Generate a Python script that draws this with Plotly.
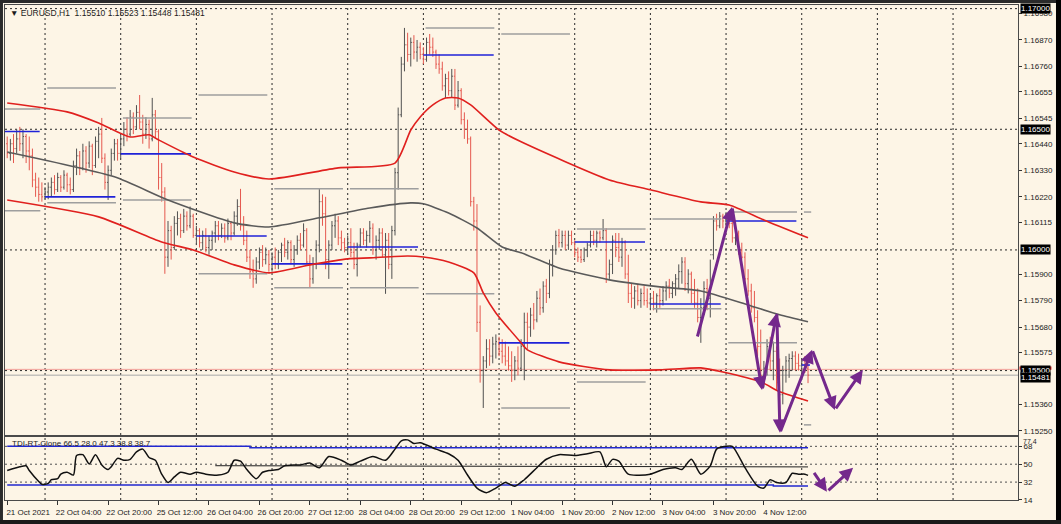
import plotly.graph_objects as go
from plotly.subplots import make_subplots

# ---------------- text ----------------
symbol_title = "\u25BC EURUSD,H1  1.15510 1.15523 1.15448 1.15481"
tdi_title = "TDI-RT-Clone 66.5 28.0 47.3 38.8 38.7"

# ---------------- H1 bars (21 Oct 12:00 ... 5 Nov 02:00) ----------------
bar_open = [
    1.1644, 1.1640, 1.1644, 1.1642, 1.1646, 1.1644, 1.1647, 1.1641, 1.1639, 1.1629, 1.1626, 1.1623,
    1.1622, 1.1624, 1.1626, 1.1628, 1.1625, 1.1630, 1.1626, 1.1631, 1.1627, 1.1625, 1.1635, 1.1639, 1.1634, 1.1641, 1.1636, 1.1643, 1.1635, 1.1645, 1.1648, 1.1638, 1.1628, 1.1633, 1.1640, 1.1644,
    1.1640, 1.1646, 1.1650, 1.1648, 1.1655, 1.1651, 1.1657, 1.1653, 1.1648, 1.1652, 1.1646, 1.1656, 1.1649, 1.1630, 1.1624, 1.1597, 1.1608, 1.1601, 1.1611, 1.1613, 1.1608, 1.1614, 1.1610, 1.1614,
    1.1606, 1.1608, 1.1603, 1.1606, 1.1601, 1.1604, 1.1607, 1.1610, 1.1606, 1.1609, 1.1605, 1.1611, 1.1607, 1.1614, 1.1618, 1.1610, 1.1604, 1.1597, 1.1591, 1.1588, 1.1595, 1.1599, 1.1596, 1.1598,
    1.1594, 1.1597, 1.1594, 1.1599, 1.1602, 1.1599, 1.1603, 1.1596, 1.1600, 1.1604, 1.1602, 1.1608, 1.1595, 1.1588, 1.1594, 1.1602, 1.1620, 1.1615, 1.1596, 1.1602, 1.1610, 1.1612, 1.1605, 1.1603,
    1.1601, 1.1603, 1.1599, 1.1594, 1.1602, 1.1607, 1.1604, 1.1606, 1.1609, 1.1600, 1.1604, 1.1607, 1.1598, 1.1604, 1.1594, 1.1608, 1.1632, 1.1656, 1.1677, 1.1685, 1.1681, 1.1686, 1.1682, 1.1684,
    1.1681, 1.1679, 1.1686, 1.1684, 1.1682, 1.1677, 1.1675, 1.1668, 1.1671, 1.1666, 1.1672, 1.1660, 1.1666, 1.1654, 1.1650, 1.1646, 1.1620, 1.1612, 1.1570, 1.1550, 1.1554, 1.1559, 1.1556, 1.1561,
    1.15615, 1.1558, 1.1556, 1.1554, 1.1552, 1.1550, 1.1554, 1.1551, 1.1560, 1.1570, 1.1568, 1.1573, 1.1571, 1.1580, 1.1576, 1.1585, 1.1582, 1.1594, 1.1600, 1.1606, 1.1603, 1.1606, 1.1602, 1.1606,
    1.1603, 1.1599, 1.1597, 1.1596, 1.1600, 1.1602, 1.1606, 1.1604, 1.1607, 1.1605, 1.1608, 1.1590, 1.1594, 1.1604, 1.1601, 1.1597, 1.1603, 1.1590, 1.1582, 1.1580, 1.1583, 1.1579, 1.1582, 1.1579,
    1.1578, 1.1580, 1.1578, 1.1581, 1.1579, 1.1583, 1.1585, 1.1582, 1.1586, 1.1588, 1.1591, 1.1595, 1.1586, 1.1590, 1.1582, 1.1578, 1.1572, 1.1576, 1.1584, 1.1580, 1.1598, 1.1612, 1.1610, 1.1614,
    1.1612, 1.1614, 1.1611, 1.1605, 1.1607, 1.1600, 1.1597, 1.1588, 1.1583, 1.1576, 1.1572, 1.1560, 1.1548, 1.1551, 1.1560, 1.1554, 1.1558, 1.1545, 1.1540, 1.1550, 1.1554, 1.1555, 1.1556, 1.1553,
    1.1552, 1.1554, 1.1551,
]
bar_high = [
    1.1647, 1.1646, 1.1648, 1.1650, 1.1651, 1.1650, 1.1648, 1.1647, 1.1642, 1.1632, 1.1630, 1.1628,
    1.1626, 1.1628, 1.1630, 1.1631, 1.1632, 1.1631, 1.1633, 1.1632, 1.1630, 1.1637, 1.1642, 1.1641, 1.1644, 1.1643, 1.1645, 1.1644, 1.1647, 1.1651, 1.16547, 1.1640, 1.1635, 1.1642, 1.1646, 1.1646,
    1.1648, 1.1653, 1.1655, 1.1658, 1.1657, 1.1660, 1.16642, 1.1656, 1.1655, 1.1654, 1.1663, 1.1658, 1.1650, 1.1636, 1.1626, 1.1612, 1.1610, 1.1614, 1.1616, 1.1615, 1.1617, 1.1616, 1.1618, 1.1615,
    1.1610, 1.1609, 1.1608, 1.1609, 1.1606, 1.1608, 1.1612, 1.1612, 1.1611, 1.1611, 1.1613, 1.1612, 1.1616, 1.1621, 1.16253, 1.1614, 1.1608, 1.1600, 1.1596, 1.1597, 1.1601, 1.1602, 1.1601, 1.1600,
    1.1599, 1.1601, 1.1600, 1.1603, 1.1605, 1.1604, 1.1604, 1.1602, 1.1606, 1.1607, 1.1611, 1.1609, 1.1598, 1.1597, 1.1604, 1.16253, 1.1623, 1.1622, 1.1604, 1.1612, 1.1615, 1.1614, 1.1608, 1.1605,
    1.1606, 1.1609, 1.1603, 1.1603, 1.1609, 1.1609, 1.1608, 1.1612, 1.1611, 1.1606, 1.1609, 1.1609, 1.1607, 1.1607, 1.1610, 1.1634, 1.1659, 1.1680, 1.1692, 1.1690, 1.1688, 1.1689, 1.1687, 1.1686,
    1.1684, 1.1688, 1.16895, 1.1688, 1.1683, 1.1681, 1.1678, 1.1673, 1.1674, 1.1675, 1.1675, 1.1670, 1.1667, 1.1657, 1.1654, 1.1647, 1.1622, 1.1619, 1.1577, 1.1556, 1.1563, 1.1563, 1.1564, 1.1565,
    1.1564, 1.1563, 1.1562, 1.1560, 1.1558, 1.1556, 1.1560, 1.1563, 1.1574, 1.1574, 1.1576, 1.1578, 1.1583, 1.1584, 1.1587, 1.1588, 1.1596, 1.1602, 1.1608, 1.16087, 1.1608, 1.1608, 1.1608, 1.1608,
    1.1604, 1.1601, 1.1600, 1.1601, 1.1603, 1.1608, 1.1608, 1.1608, 1.1608, 1.16128, 1.1609, 1.1596, 1.1606, 1.1607, 1.1607, 1.1605, 1.1604, 1.1598, 1.1586, 1.1585, 1.1586, 1.1584, 1.1585, 1.1584,
    1.1582, 1.1583, 1.1582, 1.1584, 1.1585, 1.1587, 1.1588, 1.1587, 1.1590, 1.1594, 1.1597, 1.1597, 1.1592, 1.1591, 1.1588, 1.1584, 1.1580, 1.1587, 1.1588, 1.1596, 1.1614, 1.1615, 1.16157, 1.1615,
    1.16157, 1.16155, 1.1612, 1.1609, 1.1608, 1.1603, 1.1599, 1.1592, 1.1586, 1.1583, 1.1575, 1.1567, 1.1554, 1.1563, 1.1564, 1.1562, 1.1560, 1.1555, 1.1552, 1.1556, 1.1557, 1.1558, 1.1558, 1.1557,
    1.1555, 1.1556, 1.15523,
]
bar_low = [
    1.1638, 1.1637, 1.1636, 1.1640, 1.1641, 1.1638, 1.1636, 1.1633, 1.1626, 1.1622, 1.1620, 1.1620,
    1.1621, 1.1621, 1.1622, 1.1623, 1.1624, 1.1624, 1.1625, 1.1624, 1.1623, 1.1624, 1.1631, 1.1631, 1.1633, 1.1632, 1.1634, 1.1631, 1.1634, 1.1638, 1.1636, 1.1625, 1.16207, 1.1631, 1.1637, 1.1637,
    1.1638, 1.1643, 1.1645, 1.1647, 1.1648, 1.1650, 1.1650, 1.1644, 1.1646, 1.1642, 1.1645, 1.1646, 1.1625, 1.1620, 1.15901, 1.1593, 1.1596, 1.1600, 1.1606, 1.1605, 1.1607, 1.1608, 1.1609, 1.1605,
    1.1602, 1.1601, 1.1600, 1.1599, 1.1598, 1.1600, 1.1603, 1.1604, 1.1605, 1.1603, 1.1604, 1.1604, 1.1606, 1.1610, 1.1608, 1.1602, 1.1595, 1.1588, 1.15843, 1.1586, 1.1592, 1.1593, 1.1594, 1.1591,
    1.1591, 1.1592, 1.1592, 1.1595, 1.1597, 1.1596, 1.1594, 1.1593, 1.1598, 1.1600, 1.1601, 1.1594, 1.15843, 1.1586, 1.1592, 1.1599, 1.1610, 1.1592, 1.1588, 1.1600, 1.1605, 1.1602, 1.1600, 1.1599,
    1.1598, 1.1597, 1.1592, 1.1589, 1.1601, 1.1602, 1.1601, 1.1603, 1.1598, 1.1596, 1.1600, 1.1597, 1.15818, 1.1592, 1.1588, 1.1606, 1.1625, 1.1655, 1.1674, 1.1678, 1.1676, 1.1679, 1.1678, 1.1679,
    1.1677, 1.1678, 1.1681, 1.1680, 1.1675, 1.1673, 1.1666, 1.1663, 1.1664, 1.1663, 1.1658, 1.1659, 1.1652, 1.1646, 1.1644, 1.1618, 1.1608, 1.1566, 1.1545, 1.15345, 1.1551, 1.1552, 1.1553, 1.1555,
    1.1556, 1.1553, 1.1552, 1.1550, 1.15453, 1.1546, 1.1548, 1.1550, 1.1546, 1.1559, 1.1564, 1.1567, 1.1570, 1.1573, 1.1574, 1.1578, 1.1580, 1.1589, 1.1598, 1.1601, 1.1601, 1.1600, 1.1600, 1.1602,
    1.1597, 1.1595, 1.15946, 1.1595, 1.1597, 1.1601, 1.1602, 1.1601, 1.1603, 1.1604, 1.15863, 1.1588, 1.1590, 1.1597, 1.1595, 1.1593, 1.1588, 1.1578, 1.1576, 1.15756, 1.1577, 1.1576, 1.1577, 1.1576,
    1.1575, 1.1575, 1.1574, 1.1576, 1.1577, 1.1579, 1.1580, 1.1580, 1.1581, 1.1584, 1.1586, 1.1583, 1.1582, 1.1578, 1.1576, 1.1570, 1.15615, 1.1573, 1.1575, 1.1572, 1.1596, 1.1608, 1.1609, 1.1609,
    1.1610, 1.1609, 1.1603, 1.1602, 1.1598, 1.1596, 1.1586, 1.1581, 1.1574, 1.1570, 1.1556, 1.1543, 1.1543, 1.1548, 1.1550, 1.1546, 1.1542, 1.15275, 1.1536, 1.1545, 1.1547, 1.1550, 1.1550, 1.1550,
    1.1548, 1.1549, 1.15448,
]
bar_close = [
    1.1640, 1.1644, 1.1642, 1.1646, 1.1644, 1.1647, 1.1641, 1.1639, 1.1629, 1.1626, 1.1623, 1.1622,
    1.1624, 1.1626, 1.1628, 1.1625, 1.1630, 1.1626, 1.1631, 1.1627, 1.1625, 1.1635, 1.1639, 1.1634, 1.1641, 1.1636, 1.1643, 1.1635, 1.1645, 1.1648, 1.1638, 1.1628, 1.1633, 1.1640, 1.1644, 1.1640,
    1.1646, 1.1650, 1.1648, 1.1655, 1.1651, 1.1657, 1.1653, 1.1648, 1.1652, 1.1646, 1.1656, 1.1649, 1.1630, 1.1624, 1.1597, 1.1608, 1.1601, 1.1611, 1.1613, 1.1608, 1.1614, 1.1610, 1.1614, 1.1606,
    1.1608, 1.1603, 1.1606, 1.1601, 1.1604, 1.1607, 1.1610, 1.1606, 1.1609, 1.1605, 1.1611, 1.1607, 1.1614, 1.1618, 1.1610, 1.1604, 1.1597, 1.1591, 1.1588, 1.1595, 1.1599, 1.1596, 1.1598, 1.1594,
    1.1597, 1.1594, 1.1599, 1.1602, 1.1599, 1.1603, 1.1596, 1.1600, 1.1604, 1.1602, 1.1608, 1.1595, 1.1588, 1.1594, 1.1602, 1.1620, 1.1615, 1.1596, 1.1602, 1.1610, 1.1612, 1.1605, 1.1603, 1.1601,
    1.1603, 1.1599, 1.1594, 1.1602, 1.1607, 1.1604, 1.1606, 1.1609, 1.1600, 1.1604, 1.1607, 1.1598, 1.1604, 1.1594, 1.1608, 1.1632, 1.1656, 1.1677, 1.1685, 1.1681, 1.1686, 1.1682, 1.1684, 1.1681,
    1.1679, 1.1686, 1.1684, 1.1682, 1.1677, 1.1675, 1.1668, 1.1671, 1.1666, 1.1672, 1.1660, 1.1666, 1.1654, 1.1650, 1.1646, 1.1620, 1.1612, 1.1570, 1.1550, 1.1554, 1.1559, 1.1556, 1.1561, 1.1562,
    1.1558, 1.1556, 1.1554, 1.1552, 1.1550, 1.1554, 1.1551, 1.1560, 1.1570, 1.1568, 1.1573, 1.1571, 1.1580, 1.1576, 1.1585, 1.1582, 1.1594, 1.1600, 1.1606, 1.1603, 1.1606, 1.1602, 1.1606, 1.1603,
    1.1599, 1.1597, 1.1596, 1.1600, 1.1602, 1.1606, 1.1604, 1.1607, 1.1605, 1.1608, 1.1590, 1.1594, 1.1604, 1.1601, 1.1597, 1.1603, 1.1590, 1.1582, 1.1580, 1.1583, 1.1579, 1.1582, 1.1579, 1.1578,
    1.1580, 1.1578, 1.1581, 1.1579, 1.1583, 1.1585, 1.1582, 1.1586, 1.1588, 1.1591, 1.1595, 1.1586, 1.1590, 1.1582, 1.1578, 1.1572, 1.1576, 1.1584, 1.1580, 1.1598, 1.1612, 1.1610, 1.1614, 1.1612,
    1.1614, 1.1611, 1.1605, 1.1607, 1.1600, 1.1597, 1.1588, 1.1583, 1.1576, 1.1572, 1.1560, 1.1548, 1.1551, 1.1560, 1.1554, 1.1558, 1.1545, 1.1540, 1.1550, 1.1554, 1.1555, 1.1556, 1.1553, 1.1552,
    1.1554, 1.1551, 1.15481,
]
bar_index = list(range(len(bar_close)))

# ---------------- time axis ----------------
time_tick_bars = [0, 16, 32, 48, 64, 80, 96, 112, 128, 144, 160, 176, 192, 208, 224, 240]
time_tick_labels = ["21 Oct 2021", "22 Oct 04:00", "22 Oct 20:00", "25 Oct 12:00", "26 Oct 04:00",
                    "26 Oct 20:00", "27 Oct 12:00", "28 Oct 04:00", "28 Oct 20:00", "29 Oct 12:00",
                    "1 Nov 04:00", "1 Nov 20:00", "2 Nov 12:00", "3 Nov 04:00", "3 Nov 20:00", "4 Nov 12:00"]
separator_bars = [12, 36, 60, 84, 108, 132, 156, 180, 204, 228, 252, 276, 300]

# ---------------- price axis ----------------
price_ticks = [1.16980, 1.16870, 1.16760, 1.16655, 1.16545, 1.16440, 1.16330, 1.16220, 1.16115,
               1.15900, 1.15790, 1.15680, 1.15575, 1.15360, 1.15250]
marked_levels = [1.17000, 1.16500, 1.16000, 1.15500]
bid_price = 1.15481
ask_price = 1.15505

# ---------------- daily levels (open = blue, previous day high/low = grey) ----------------
day_start = [-12, 12, 36, 60, 84, 108, 132, 156, 180, 204, 228, 252]
day_open = [1.16491, 1.16220, 1.16398, 1.16058, 1.15942, 1.16012, 1.16808, 1.15615, 1.16033, 1.15776, 1.16120, 1.15523]
prev_high = [1.16584, 1.16671, 1.16547, 1.16642, 1.16253, 1.16253, 1.16920, 1.16895, 1.16087, 1.16128, 1.16157, 1.16157]
prev_low = [1.16162, 1.16195, 1.16207, 1.15901, 1.15843, 1.15843, 1.15818, 1.15345, 1.15453, 1.15756, 1.15615, 1.15275]

# ---------------- channel (upper red, middle grey, lower red) ----------------
upper_x = [0, 19, 29, 39, 45, 48, 59, 72, 83, 105, 123, 128, 131, 135, 139, 143, 147, 156, 163, 191, 204, 220, 229, 240, 254]
upper_y = [1.16609, 1.16572, 1.16526, 1.16468, 1.16477, 1.16456, 1.16385, 1.16323, 1.16294, 1.16340, 1.16360,
           1.16497, 1.16551, 1.16601, 1.16630, 1.16630, 1.16601, 1.16497, 1.16448, 1.16290, 1.16249, 1.16199,
           1.16186, 1.16124, 1.16050]
mid_x = [0, 34, 51, 72, 83, 99, 115, 128, 132, 140, 149, 157, 163, 175, 191, 207, 220, 235, 245, 254]
mid_y = [1.16406, 1.16303, 1.16207, 1.16112, 1.16095, 1.16133, 1.16174, 1.16195, 1.16191, 1.16153, 1.16091,
         1.16012, 1.15988, 1.15925, 1.15876, 1.15847, 1.15830, 1.15772, 1.15731, 1.15702]
lower_x = [0, 29, 49, 59, 72, 83, 96, 108, 115, 127, 132, 140, 148, 151, 155, 163, 165, 175, 191, 207, 220, 227, 239, 245, 254]
lower_y = [1.16207, 1.16137, 1.16033, 1.16000, 1.15938, 1.15905, 1.15938, 1.15963, 1.15967, 1.15975, 1.15971,
           1.15950, 1.15905, 1.15822, 1.15739, 1.15615, 1.15586, 1.15536, 1.15503, 1.15503, 1.15511, 1.15494,
           1.15453, 1.15412, 1.15374]

# ---------------- TDI sub-window ----------------
tdi_x = [0, 4, 6, 7, 10, 11, 13, 14, 16, 17, 19, 21, 22, 24, 26, 28, 30, 32, 33, 35, 37, 39, 41, 43, 45, 47,
         49, 51, 53, 55, 58, 60, 63, 67, 70, 72, 74, 76, 79, 81, 83, 86, 88, 91, 93, 96, 99, 102, 106, 109,
         112, 116, 120, 123, 125, 127, 129, 131, 136, 140, 143, 146, 149, 152, 155, 158, 161, 164, 168, 171,
         175, 180, 184, 188, 190, 192, 194, 197, 204, 208, 212, 214, 217, 220, 223, 225, 228, 230, 234, 238,
         240, 242, 244, 247, 249, 251, 253, 254]
tdi_price = [43.7, 47.5, 48.4, 43.7, 32.6, 29.8, 30.7, 34.4, 35.4, 40.0, 41.9, 39.1, 58.7, 59.6, 50.3, 59.6,
             49.3, 44.7, 47.5, 55.9, 54.0, 54.9, 62.4, 65.2, 56.8, 54.0, 40.0, 31.6, 37.2, 41.9, 40.0, 41.9,
             40.0, 39.1, 41.9, 54.0, 53.1, 44.7, 35.4, 41.9, 43.7, 44.7, 48.4, 49.3, 49.3, 51.2, 46.5, 57.7,
             54.0, 49.3, 53.1, 57.7, 54.0, 65.2, 73.6, 74.5, 70.8, 71.7, 65.2, 60.5, 54.0, 39.1, 26.0, 21.4,
             26.0, 31.6, 27.9, 34.4, 46.5, 55.0, 59.6, 58.7, 60.5, 62.4, 47.5, 54.9, 53.1, 40.0, 40.0, 44.7,
             46.5, 44.7, 54.9, 40.0, 48.4, 65.2, 68.0, 68.0, 46.5, 27.9, 26.0, 34.4, 31.6, 31.6, 40.9, 40.0,
             40.0, 38.8]
tdi_up_x = [0, 77, 77, 254]
tdi_up_y = [68.0, 68.0, 66.5, 66.5]
tdi_dn_x = [0, 243, 243, 254]
tdi_dn_y = [29.0, 29.0, 28.0, 28.0]
tdi_base_x = [66, 254]
tdi_base_y = [48.5, 47.3]
tdi_levels = [68, 50, 32]
tdi_ticks = [68, 50, 32, 14]
tdi_max_label = "77.4"

# ---------------- drawn arrows ----------------
arrow_x = [218.8, 229.9, 239.4, 244.1, 245.1, 255.3, 262.5, 271.4]
arrow_y = [1.15635, 1.16178, 1.15420, 1.15739, 1.15242, 1.15586, 1.15337, 1.15503]
tdi_arrow_x = [255.6, 260.0, 268.3]
tdi_arrow_y = [42.8, 22.3, 46.5]

# ======================================================================
BG = "#FDF5E6"
TXT = "#1c1c1c"
FONT = "Liberation Sans"

fig = make_subplots(rows=2, cols=1, shared_xaxes=True, vertical_spacing=0.004)

fig.add_trace(go.Ohlc(
    x=bar_index, open=bar_open, high=bar_high, low=bar_low, close=bar_close,
    increasing=dict(line=dict(color="#505050", width=1)),
    decreasing=dict(line=dict(color="#E5584F", width=1)),
    tickwidth=0.35, hoverinfo="skip", showlegend=False), row=1, col=1)

# daily level segments
last_bar = bar_index[-1]
bx, by, gx, gy = [], [], [], []
for s, o, h, l in zip(day_start, day_open, prev_high, prev_low):
    be = min(s + 22.3, last_bar + 0.6)
    bx += [s, be, None]
    by += [o, o, None]
    gs = s + 0.7
    ge = min(s + 22.5, last_bar + 1.0)
    gx += [gs, ge, None, gs, ge, None]
    gy += [h, h, None, l, l, None]
fig.add_trace(go.Scatter(x=gx, y=gy, mode="lines", line=dict(color="#9E9E9E", width=1.5),
                         hoverinfo="skip", showlegend=False), row=1, col=1)
fig.add_trace(go.Scatter(x=bx, y=by, mode="lines", line=dict(color="#1F22D8", width=1.6),
                         hoverinfo="skip", showlegend=False), row=1, col=1)

# channel lines
fig.add_trace(go.Scatter(x=upper_x, y=upper_y, mode="lines", line=dict(color="#E0201E", width=1.6, shape="spline", smoothing=0.6),
                         hoverinfo="skip", showlegend=False), row=1, col=1)
fig.add_trace(go.Scatter(x=mid_x, y=mid_y, mode="lines", line=dict(color="#5A5A5A", width=1.6, shape="spline", smoothing=0.6),
                         hoverinfo="skip", showlegend=False), row=1, col=1)
fig.add_trace(go.Scatter(x=lower_x, y=lower_y, mode="lines", line=dict(color="#E0201E", width=1.6, shape="spline", smoothing=0.6),
                         hoverinfo="skip", showlegend=False), row=1, col=1)

# TDI
fig.add_trace(go.Scatter(x=tdi_up_x, y=tdi_up_y, mode="lines", line=dict(color="#2228D0", width=1.5),
                         hoverinfo="skip", showlegend=False), row=2, col=1)
fig.add_trace(go.Scatter(x=tdi_dn_x, y=tdi_dn_y, mode="lines", line=dict(color="#2228D0", width=1.5),
                         hoverinfo="skip", showlegend=False), row=2, col=1)
fig.add_trace(go.Scatter(x=tdi_base_x, y=tdi_base_y, mode="lines", line=dict(color="#202020", width=1),
                         hoverinfo="skip", showlegend=False), row=2, col=1)
fig.add_trace(go.Scatter(x=tdi_x, y=tdi_price, mode="lines", line=dict(color="#111111", width=1.5, shape="spline", smoothing=0.7),
                         hoverinfo="skip", showlegend=False), row=2, col=1)

# separators (dotted verticals)
for b in separator_bars:
    fig.add_shape(type="line", xref="x", yref="paper", x0=b, x1=b, y0=0, y1=1,
                  line=dict(color="#2a2a2a", width=1, dash="2px,3px"), layer="below")
# marked horizontal levels
for lv in marked_levels:
    fig.add_shape(type="line", xref="paper", yref="y", x0=0, x1=1, y0=lv, y1=lv,
                  line=dict(color="#2a2a2a", width=1, dash="2px,3px"), layer="below")
# ask / bid lines
fig.add_shape(type="line", xref="paper", yref="y", x0=0, x1=1, y0=ask_price, y1=ask_price,
              line=dict(color="#F2A09A", width=1), layer="below")
fig.add_shape(type="line", xref="paper", yref="y", x0=0, x1=1, y0=bid_price, y1=bid_price,
              line=dict(color="#A8A8A8", width=1), layer="below")
# TDI level lines
for lv in tdi_levels:
    fig.add_shape(type="line", xref="paper", yref="y2", x0=0, x1=1, y0=lv, y1=lv,
                  line=dict(color="#505050", width=1, dash="2px,3px"), layer="below")

# arrows in main chart
for i in range(len(arrow_x) - 1):
    fig.add_annotation(x=arrow_x[i + 1], y=arrow_y[i + 1], ax=arrow_x[i], ay=arrow_y[i],
                       xref="x", yref="y", axref="x", ayref="y", text="", showarrow=True,
                       arrowhead=2, arrowsize=0.9, arrowwidth=3, arrowcolor="#74288C")
for i in range(len(tdi_arrow_x) - 1):
    fig.add_annotation(x=tdi_arrow_x[i + 1], y=tdi_arrow_y[i + 1], ax=tdi_arrow_x[i], ay=tdi_arrow_y[i],
                       xref="x2", yref="y2", axref="x2", ayref="y2", text="", showarrow=True,
                       arrowhead=2, arrowsize=0.9, arrowwidth=3, arrowcolor="#74288C")

# ask marker strip on the price scale
fig.add_shape(type="rect", xref="paper", yref="y", x0=1.0015, x1=1.033,
              y0=ask_price - 0.00002, y1=ask_price + 0.00012, fillcolor="#E02020", line=dict(width=0))
# price boxes on right axis
box_font = dict(family=FONT, size=8, color="white")
for lv in marked_levels:
    fig.add_annotation(xref="paper", yref="y", x=1.0015, y=lv, xanchor="left", yanchor="middle",
                       text=f"{lv:.5f}", showarrow=False, bgcolor="#000000", font=box_font, borderpad=0)
fig.add_annotation(xref="paper", yref="y", x=1.0015, y=bid_price - 0.00008, xanchor="left", yanchor="middle",
                   text=f"{bid_price:.5f}", showarrow=False, bgcolor="#000000", font=box_font, borderpad=0)
# top value of the TDI scale
fig.add_annotation(xref="paper", yref="paper", x=1.004, y=0.1273, xanchor="left", yanchor="top",
                   text=tdi_max_label, showarrow=False, font=dict(family=FONT, size=7, color=TXT), borderpad=0)

# titles
fig.add_annotation(xref="paper", yref="paper", x=0.003, y=0.984, xanchor="left", yanchor="middle",
                   text=symbol_title, showarrow=False, font=dict(family=FONT, size=8.5, color=TXT))
fig.add_annotation(xref="paper", yref="paper", x=0.005, y=0.115, xanchor="left", yanchor="middle",
                   text=tdi_title, showarrow=False, font=dict(family=FONT, size=8, color=TXT))

# window frame strips
fig.add_shape(type="rect", xref="paper", yref="paper", x0=-0.006, x1=-0.002, y0=-0.06, y1=1.02,
              fillcolor="#2a2a2a", line=dict(width=0))
fig.add_shape(type="rect", xref="paper", yref="paper", x0=-0.01, x1=1.06, y0=1.004, y1=1.02,
              fillcolor="#2a2a2a", line=dict(width=0))
fig.add_shape(type="rect", xref="paper", yref="paper", x0=1.0375, x1=1.06, y0=-0.06, y1=1.02,
              fillcolor="#000000", line=dict(width=0))
fig.add_shape(type="rect", xref="paper", yref="paper", x0=-0.01, x1=1.06, y0=-0.06, y1=-0.0404,
              fillcolor="#1a1a1a", line=dict(width=0))

axis_font = dict(family=FONT, size=8, color=TXT)
fig.update_layout(
    width=1061, height=524,
    margin=dict(l=5, r=43, t=5, b=24, autoexpand=False),
    paper_bgcolor=BG, plot_bgcolor=BG,
    showlegend=False,
    xaxis=dict(domain=[0, 1], range=[-0.7, 320.6], showgrid=False, zeroline=False, showticklabels=False,
               automargin=False,
               showline=True, mirror=True, linecolor="#4a4a4a", linewidth=1, rangeslider=dict(visible=False)),
    xaxis2=dict(domain=[0, 1], range=[-0.7, 320.6], showgrid=False, zeroline=False, automargin=False,
                tickvals=time_tick_bars, ticktext=time_tick_labels, ticks="outside", ticklen=4,
                tickcolor="#333333", tickfont=axis_font, ticklabelshift=21,
                showline=True, mirror=True, linecolor="#4a4a4a", linewidth=1, rangeslider=dict(visible=False)),
    yaxis=dict(domain=[0.1313, 1.0], range=[1.15233, 1.17015], side="right", showgrid=False, zeroline=False,
               automargin=False,
               tickvals=price_ticks, ticktext=[f"{v:.5f}" for v in price_ticks], ticks="outside", ticklen=3,
               tickcolor="#333333", tickfont=axis_font, showline=True, mirror=True, linecolor="#4a4a4a", linewidth=1),
    yaxis2=dict(domain=[0.0, 0.1273], range=[13.99, 77.41], side="right", showgrid=False, zeroline=False,
                automargin=False,
                tickvals=tdi_ticks, ticktext=[str(t) for t in tdi_ticks], ticks="outside", ticklen=3,
                tickcolor="#333333", tickfont=axis_font, showline=True, mirror=True, linecolor="#4a4a4a", linewidth=1),
)

fig.write_html("out.html",
               config={"displayModeBar": False},
               post_script="document.body.style.margin='0';document.body.style.padding='0';"
                           "document.documentElement.style.overflow='hidden';")
